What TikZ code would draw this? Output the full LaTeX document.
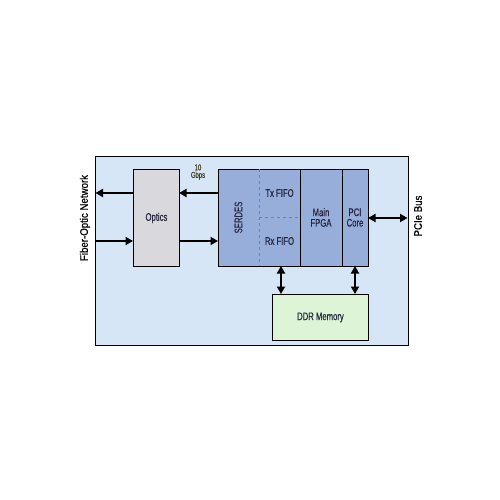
\documentclass[tikz,border=0pt]{standalone}
\usepackage{fontspec}
\setmainfont{Liberation Sans}[FakeStretch=0.7,FakeBold=0.6]
\newfontfamily\sidefont{Liberation Sans}[FakeStretch=0.88,FakeBold=0.6]
\usetikzlibrary{arrows.meta}
\definecolor{bgblue}{HTML}{D6E6F6}
\definecolor{optgray}{HTML}{D9D8DC}
\definecolor{blkblue}{HTML}{97AEDB}
\definecolor{ddrgreen}{HTML}{DDF5D6}
\definecolor{txtdark}{HTML}{262640}
\definecolor{gbps}{HTML}{4A4020}
\tikzset{
  blk/.style={draw=black, line width=0.9pt, inner sep=0pt, anchor=north west},
  lbl/.style={font=\fontsize{11}{12}\selectfont, text=txtdark, align=center},
  side/.style={font=\sidefont\fontsize{11}{12}\selectfont, text=black, rotate=90},
  arr/.style={line width=2pt, -{Triangle[length=7.5pt,width=8pt]}},
  darr/.style={line width=2pt, {Triangle[length=7.5pt,width=8pt]}-{Triangle[length=7.5pt,width=8pt]}},
}
\begin{document}
\begin{tikzpicture}[x=1pt,y=-1pt]
\useasboundingbox (0,0) rectangle (500,500);
\node[blk, fill=bgblue, minimum width=313pt, minimum height=189pt] (outer) at (95,156) {};
\node[blk, fill=optgray, minimum width=46pt, minimum height=97pt] (optics) at (133,169) {};
\node[lbl] at (optics.center) {Optics};
\node[blk, fill=blkblue, minimum width=150pt, minimum height=97pt] (fpga) at (218,169) {};
\coordinate (d1t) at (259,169); \coordinate (d1b) at (259,266);
\draw[gray, dashed, line width=0.6pt] (d1t) -- (d1b);
\coordinate (hl) at (259,217); \coordinate (hr) at (300,217);
\draw[gray, dashed, line width=0.6pt] (hl) -- (hr);
\coordinate (d2t) at (300,169); \coordinate (d2b) at (300,266);
\draw[line width=0.9pt] (d2t) -- (d2b);
\coordinate (d3t) at (342,169); \coordinate (d3b) at (342,266);
\draw[line width=0.9pt] (d3t) -- (d3b);
\node[lbl, rotate=90] (serdes) at (238.5,217.5) {SERDES};
\node[lbl] (tx) at (279.5,193) {Tx FIFO};
\node[lbl] (rx) at (279.5,241) {Rx FIFO};
\node[lbl] (main) at (321,217.5) {Main\\[-1.5pt]FPGA};
\node[lbl] (pci) at (355,217.5) {PCI\\[-1.5pt]Core};
\node[blk, fill=ddrgreen, minimum width=96pt, minimum height=46pt] (ddr) at (272,294) {};
\node[lbl] at (ddr.center) {DDR Memory};
\node[font=\fontsize{8.5}{8.5}\selectfont, text=gbps, align=center] (gb) at (198,172) {10\\[-1pt]Gbps};
% arrows
\coordinate (sTop) at (218,193); \coordinate (oTopR) at (179,193);
\coordinate (oTopL) at (133,193); \coordinate (outTop) at (95.5,193);
\coordinate (outBot) at (95.5,241); \coordinate (oBotL) at (133,241);
\coordinate (oBotR) at (179,241); \coordinate (sBot) at (218,241);
\draw[arr] (sTop) -- (oTopR);
\draw[arr] (oTopL) -- (outTop);
\draw[arr] (outBot) -- (oBotL);
\draw[arr] (oBotR) -- (sBot);
\coordinate (v1t) at (281,266); \coordinate (v1b) at (281,294);
\coordinate (v2t) at (355,266); \coordinate (v2b) at (355,294);
\draw[darr] (v1t) -- (v1b);
\draw[darr] (v2t) -- (v2b);
\coordinate (pl) at (368,218); \coordinate (pr) at (407.5,218);
\draw[darr] (pl) -- (pr);
\node[side] (fon) at (85,218) {Fiber-Optic Network};
\node[side] (pcie) at (418,216) {PCIe Bus};
\end{tikzpicture}
\end{document}
